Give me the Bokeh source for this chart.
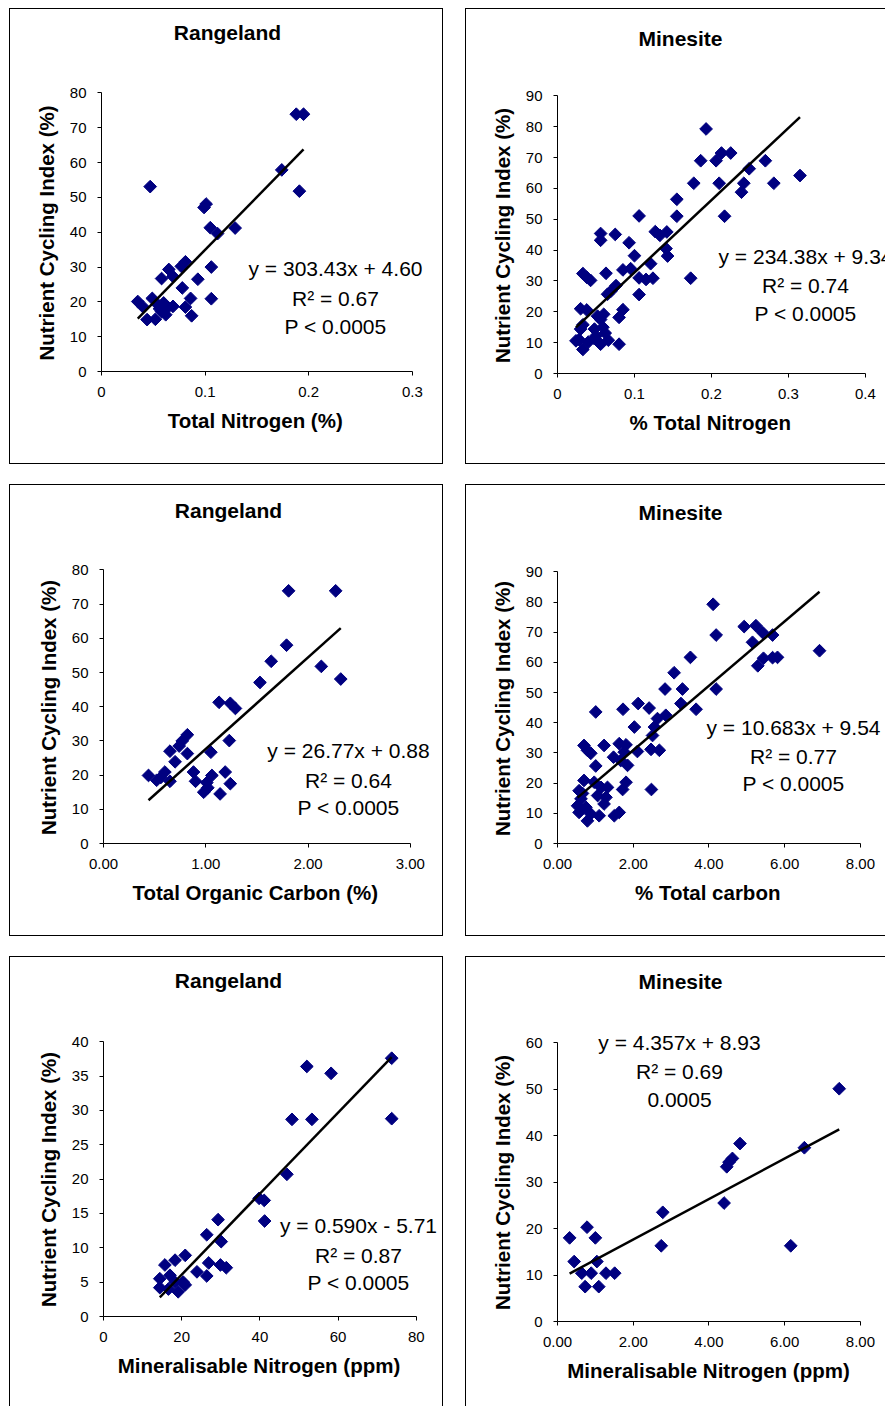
from bokeh.plotting import figure
from bokeh.models import Label, FixedTicker, Range1d, NumeralTickFormatter, Title
from bokeh.layouts import row, column
from bokeh.embed import file_html
from bokeh.resources import INLINE
import numpy as np

# ---------------- data ----------------
# Panel 1: Rangeland, Total Nitrogen (%)
tn_range_x = [0.047, 0.188, 0.195, 0.174, 0.191, 0.101, 0.099, 0.105, 0.112, 0.129,
              0.081, 0.077, 0.106, 0.065, 0.069, 0.058, 0.093, 0.078, 0.086, 0.106,
              0.035, 0.040, 0.049, 0.054, 0.060, 0.064, 0.069, 0.058, 0.062, 0.081,
              0.087, 0.044, 0.052, 0.056]
tn_range_y = [53.1, 73.9, 73.9, 57.9, 51.8, 48.1, 47.1, 41.3, 39.6, 41.2,
              31.5, 30.2, 30.0, 29.3, 27.3, 26.7, 26.5, 24.0, 21.0, 20.9,
              20.1, 18.6, 21.0, 19.3, 19.7, 18.4, 18.7, 17.2, 16.3, 18.5,
              16.0, 14.9, 15.0, 18.0]

# Panel 2: Minesite, % Total Nitrogen
tn_mine_x = [0.193, 0.186, 0.177, 0.206, 0.213, 0.225, 0.210, 0.217, 0.249, 0.242,
             0.239, 0.270, 0.281, 0.315, 0.155, 0.155, 0.106, 0.127, 0.133, 0.142,
             0.141, 0.143, 0.121, 0.100, 0.093, 0.075, 0.056, 0.056, 0.106, 0.115,
             0.124, 0.106, 0.173, 0.095, 0.085, 0.063, 0.033, 0.038, 0.043, 0.076,
             0.069, 0.065, 0.085, 0.080, 0.030, 0.038, 0.033, 0.052, 0.060, 0.056,
             0.030, 0.048, 0.059, 0.050, 0.062, 0.028, 0.024, 0.033, 0.040, 0.048,
             0.056, 0.066, 0.080]
tn_mine_y = [79.3, 69.0, 61.7, 69.0, 71.5, 71.5, 61.7, 51.0, 66.4, 61.7,
             58.8, 69.0, 61.7, 64.2, 56.5, 51.0, 51.1, 46.0, 44.8, 45.9,
             40.5, 38.1, 35.6, 38.2, 42.4, 45.1, 45.4, 43.2, 31.0, 30.5,
             30.9, 25.6, 30.9, 34.0, 33.6, 32.5, 32.4, 31.2, 30.2, 28.5,
             26.6, 25.7, 20.7, 18.2, 21.0, 20.6, 15.8, 18.6, 19.2, 17.5,
             14.4, 14.4, 15.0, 12.2, 13.1, 11.0, 10.6, 7.8, 10.2, 11.3,
             9.5, 10.8, 9.5]

# Panel 3: Rangeland, Total Organic Carbon (%)
toc_range_x = [1.81, 2.27, 1.79, 1.64, 2.13, 2.32, 1.53, 1.13, 1.24, 1.29,
               1.23, 0.82, 0.77, 0.74, 0.65, 0.82, 1.05, 0.70, 0.44, 0.52,
               0.60, 0.65, 0.88, 0.90, 1.06, 1.19, 1.24, 1.01, 0.98, 1.14,
               1.02, 0.56]
toc_range_y = [73.9, 73.9, 58.0, 53.3, 51.8, 48.1, 47.1, 41.3, 41.0, 39.5,
               30.1, 31.8, 30.0, 28.5, 27.0, 26.3, 26.7, 23.9, 19.9, 18.5,
               20.9, 18.2, 20.9, 18.2, 19.9, 20.9, 17.5, 17.8, 15.0, 14.5,
               16.3, 19.3]

# Panel 4: Minesite, % Total carbon
tc_mine_x = [4.11, 4.19, 4.93, 5.24, 5.42, 5.68, 5.15, 5.29, 5.44, 5.68,
             5.81, 6.92, 3.51, 3.08, 2.84, 3.30, 4.19, 3.26, 3.66, 2.13,
             2.42, 1.73, 1.01, 2.64, 2.86, 2.03, 2.56, 2.51, 2.11, 2.47,
             2.69, 0.70, 0.79, 0.88, 1.23, 1.63, 1.81, 1.76, 1.48, 1.67,
             1.85, 1.01, 1.81, 1.72, 2.48, 0.70, 0.97, 0.57, 1.15, 1.32,
             0.62, 1.06, 1.28, 0.53, 1.23, 0.57, 0.79, 0.88, 1.10, 1.50,
             1.63, 0.66, 0.75]
tc_mine_y = [79.3, 69.1, 71.9, 72.2, 69.9, 69.1, 66.7, 58.9, 61.4, 61.6,
             61.7, 63.9, 61.7, 56.6, 51.2, 51.2, 51.2, 46.4, 44.5, 46.4,
             44.9, 44.5, 43.6, 41.4, 42.5, 38.6, 38.6, 35.8, 30.5, 31.2,
             30.9, 32.5, 30.9, 29.9, 32.5, 33.1, 32.7, 30.3, 28.6, 27.5,
             25.9, 25.7, 20.3, 17.9, 17.9, 20.9, 20.3, 17.5, 18.6, 18.6,
             14.8, 15.9, 15.3, 12.5, 13.1, 10.3, 7.5, 9.8, 9.2, 9.2,
             10.3, 16.6, 12.0]

# Panel 5: Rangeland, Mineralisable Nitrogen (ppm)
mn_range_x = [73.7, 73.7, 52.0, 58.2, 48.2, 53.3, 46.9, 39.8, 41.1, 41.2,
              29.3, 26.4, 30.1, 20.9, 18.3, 15.7, 26.9, 29.9, 31.4, 23.9,
              26.4, 14.4, 14.4, 17.0, 18.3, 16.6, 20.4, 19.1, 20.9]
mn_range_y = [37.6, 28.8, 36.4, 35.4, 28.7, 28.7, 20.7, 17.2, 16.9, 13.9,
              14.1, 11.9, 10.9, 8.9, 8.2, 7.5, 7.8, 7.5, 7.1, 6.5,
              5.9, 5.5, 4.2, 6.0, 5.0, 4.0, 5.0, 3.6, 4.6]

# Panel 6: Minesite, Mineralisable Nitrogen (ppm)
mn_mine_x = [7.44, 6.52, 4.82, 4.62, 4.53, 4.47, 4.40, 6.16, 2.78, 2.74,
             0.32, 0.78, 1.00, 0.44, 1.04, 0.64, 0.89, 1.28, 1.51, 0.73, 1.09]
mn_mine_y = [50.1, 37.4, 38.3, 35.1, 34.3, 33.3, 25.5, 16.3, 23.5, 16.3,
             18.0, 20.3, 18.0, 12.9, 12.9, 10.4, 10.4, 10.4, 10.4, 7.5, 7.5]

# regression fits (slope, intercept) and annotation texts
fit_slopes = [303.43, 234.38, 26.77, 10.683, 0.590, 4.357]
fit_intercepts = [4.60, 9.34, 0.88, 9.54, -5.71, 8.93]
eq_texts = [
    ["y = 303.43x + 4.60", "R\u00b2 = 0.67", "P < 0.0005"],
    ["y = 234.38x + 9.34", "R\u00b2 = 0.74", "P < 0.0005"],
    ["y = 26.77x + 0.88", "R\u00b2 = 0.64", "P < 0.0005"],
    ["y = 10.683x + 9.54", "R\u00b2 = 0.77", "P < 0.0005"],
    ["y = 0.590x - 5.71", "R\u00b2 = 0.87", "P < 0.0005"],
    ["y = 4.357x + 8.93", "R\u00b2 = 0.69", "0.0005"],
]
titles = ["Rangeland", "Minesite", "Rangeland", "Minesite", "Rangeland", "Minesite"]
x_labels = ["Total Nitrogen (%)", "% Total Nitrogen", "Total Organic Carbon (%)",
            "% Total carbon", "Mineralisable Nitrogen (ppm)", "Mineralisable Nitrogen (ppm)"]
y_label = "Nutrient Cycling Index (%)"

x_ticks = [[0, 0.1, 0.2, 0.3], [0, 0.1, 0.2, 0.3, 0.4], [0, 1, 2, 3],
           [0, 2, 4, 6, 8], [0, 20, 40, 60, 80], [0, 2, 4, 6, 8]]
x_tick_labels = [["0", "0.1", "0.2", "0.3"], ["0", "0.1", "0.2", "0.3", "0.4"],
                 ["0.00", "1.00", "2.00", "3.00"],
                 ["0.00", "2.00", "4.00", "6.00", "8.00"],
                 ["0", "20", "40", "60", "80"],
                 ["0.00", "2.00", "4.00", "6.00", "8.00"]]
y_ticks = [list(range(0, 81, 10)), list(range(0, 91, 10)), list(range(0, 81, 10)),
           list(range(0, 91, 10)), list(range(0, 41, 5)), list(range(0, 61, 10))]

# ---------------- layout / style ----------------
FONT = "Liberation Sans"
NAVY = "#000080"
LABEL_PX = 20.5

# advance widths (1/1000 em) of Liberation Sans Bold, used to centre the
# axis titles on the bounded axis span
BOLD_W = {" ": 278, "%": 889, "(": 333, ")": 333, "A": 722, "C": 722, "I": 278,
          "M": 833, "N": 722, "O": 778, "T": 611, "a": 556, "b": 611, "c": 556,
          "d": 611, "e": 556, "g": 611, "i": 278, "l": 278, "m": 889, "n": 611,
          "o": 611, "p": 611, "r": 389, "s": 556, "t": 333, "u": 611, "x": 556,
          "y": 556}


def text_width(s, px):
    return sum(BOLD_W.get(ch, 556) for ch in s) / 1000.0 * px


# canvas w/h, left & bottom border, axis lengths in px, css borders,
# title position and equation positions (px from frame's bottom-left)
geom = [
    dict(w=432, h=454, bl=91, bb=94, ax=(309, 277), css="ltrb", tpos=(126, 339), epos=(234, [103, 73, 45])),
    dict(w=419, h=454, bl=91, bb=92, ax=(307, 276), css="ltb", tpos=(123, 335), epos=(248, [117, 88, 60])),
    dict(w=432, h=450, bl=93, bb=94, ax=(305, 272), css="ltrb", tpos=(125, 333), epos=(245, [93, 63, 36])),
    dict(w=419, h=450, bl=91, bb=94, ax=(302, 270), css="ltb", tpos=(123, 331), epos=(236, [116, 87, 60])),
    dict(w=432, h=449, bl=93, bb=91, ax=(311, 274), css="ltr", tpos=(125, 336), epos=(255, [91, 61, 34])),
    dict(w=419, h=449, bl=91, bb=86, ax=(302, 278), css="lt", tpos=(123, 340), epos=(122, [279, 250, 222])),
]

datasets = [(tn_range_x, tn_range_y), (tn_mine_x, tn_mine_y), (toc_range_x, toc_range_y),
            (tc_mine_x, tc_mine_y), (mn_range_x, mn_range_y), (mn_mine_x, mn_mine_y)]

side_names = {"l": "border-left", "r": "border-right", "t": "border-top", "b": "border-bottom"}


def make_panel(i):
    g = geom[i]
    xs, ys = datasets[i]
    xt, yt = x_ticks[i], y_ticks[i]
    bl, bb = g["bl"], g["bb"]
    fw, fh = g["w"] - bl, g["h"] - bb
    axw, axh = g["ax"]
    # the frame fills the panel to its right/top edges; axes are bounded to the data span
    x_end = xt[0] + (xt[-1] - xt[0]) * fw / axw
    y_end = yt[0] + (yt[-1] - yt[0]) * fh / axh
    p = figure(frame_width=fw, frame_height=fh,
               x_range=Range1d(xt[0], x_end), y_range=Range1d(yt[0], y_end),
               output_backend="svg", toolbar_location=None, title=None,
               min_border_left=bl, min_border_right=0,
               min_border_top=0, min_border_bottom=bb)
    styles = {"box-sizing": "content-box"}
    for ch in g["css"]:
        styles[side_names[ch]] = "1px solid #000000"
    p.styles = styles
    p.outline_line_color = None
    p.xgrid.visible = False
    p.ygrid.visible = False
    p.background_fill_color = "white"
    p.border_fill_color = "white"

    for ax in (p.xaxis[0], p.yaxis[0]):
        ax.axis_line_color = "#000000"
        ax.axis_line_width = 1
        ax.major_tick_line_color = "#000000"
        ax.major_tick_out = 4
        ax.major_tick_in = 0
        ax.minor_tick_line_color = None
        ax.major_label_text_font = FONT
        ax.major_label_text_font_size = "15px"
        ax.major_label_text_color = "#000000"
    p.xaxis.major_label_standoff = 11
    p.yaxis.major_label_standoff = 11

    p.xaxis.bounds = (xt[0], xt[-1])
    p.yaxis.bounds = (yt[0], yt[-1])
    p.xaxis.ticker = FixedTicker(ticks=xt)
    p.xaxis.major_label_overrides = {float(t): s for t, s in zip(xt, x_tick_labels[i])}
    p.xaxis.formatter = NumeralTickFormatter(format="0.[00]")
    p.yaxis.ticker = FixedTicker(ticks=yt)

    # axis titles, centred on the bounded axis span
    xw = text_width(x_labels[i], LABEL_PX)
    yw = text_width(y_label, LABEL_PX)
    p.add_layout(Title(text=x_labels[i], align="left", offset=(axw - xw) / 2,
                       standoff=15, text_font=FONT, text_font_size=f"{LABEL_PX}px",
                       text_font_style="bold", text_color="#000000"), "below")
    p.add_layout(Title(text=y_label, align="left", offset=(axh - yw) / 2,
                       standoff=17, text_font=FONT, text_font_size=f"{LABEL_PX}px",
                       text_font_style="bold", text_color="#000000"), "left")

    p.scatter(xs, ys, marker="square", angle=np.pi / 4, size=9,
              fill_color=NAVY, line_color=NAVY)

    x0, x1 = min(xs), max(xs)
    m, c = fit_slopes[i], fit_intercepts[i]
    p.line([x0, x1], [m * x0 + c, m * x1 + c], line_color="#000000", line_width=2.5)

    tx, ty = g["tpos"]
    p.add_layout(Label(x=tx, y=ty, x_units="screen", y_units="screen", text=titles[i],
                       text_font=FONT, text_font_size="21px", text_font_style="bold",
                       text_align="center", text_baseline="middle", text_color="#000000"))
    ex, eys = g["epos"]
    for txt, ey in zip(eq_texts[i], eys):
        p.add_layout(Label(x=ex, y=ey, x_units="screen", y_units="screen", text=txt,
                           text_font=FONT, text_font_size="21px",
                           text_align="center", text_baseline="middle", text_color="#000000"))
    return p


panels = [make_panel(i) for i in range(6)]
layout = column(
    row(panels[0], panels[1], spacing=22),
    row(panels[2], panels[3], spacing=22),
    row(panels[4], panels[5], spacing=22),
    spacing=20,
    margin=(8, 0, 0, 9),
)

open("out.html", "w").write(file_html(layout, INLINE))
